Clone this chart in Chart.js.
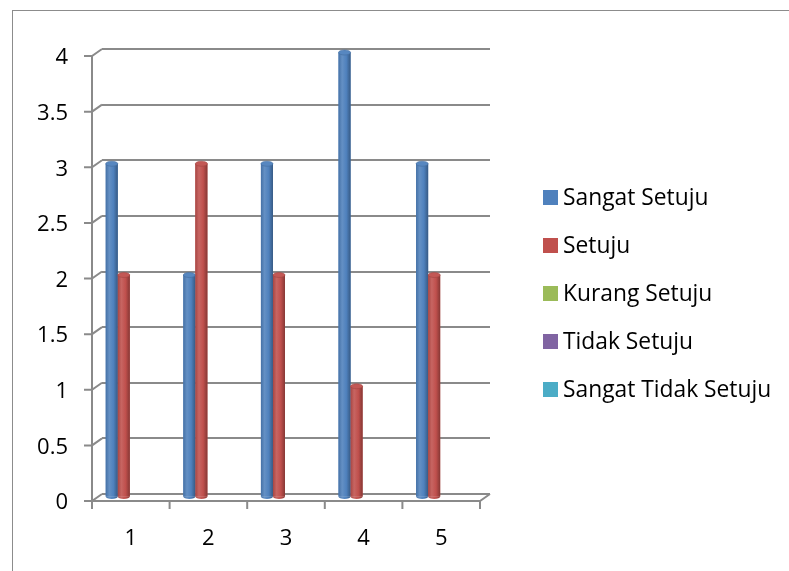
<!DOCTYPE html>
<html>
<head>
<meta charset="utf-8">
<script src="https://cdn.jsdelivr.net/npm/chart.js@4"></script>
<style>
  html, body { margin: 0; padding: 0; background: #fff; }
  #wrap { position: relative; width: 789px; height: 571px; overflow: hidden; }
  #frame { position: absolute; left: 12px; top: 10px; width: 800px; height: 600px; border: 1.5px solid #8c8c8c; box-sizing: border-box; }
  canvas { position: absolute; left: 0; top: 0; }
  #legend { position: absolute; left: 543px; top: 0; font-family: "Open Sans", sans-serif; font-size: 22.8px; color: #000; }
  .item { position: absolute; left: 0; white-space: nowrap; height: 30px; line-height: 30px; }
  .sw { position: absolute; left: 0; top: 8px; width: 15px; height: 15px; }
  .tx { position: absolute; left: 20px; top: 0; }
</style>
</head>
<body>
<div id="wrap">
  <div id="frame"></div>
  <canvas id="c" width="789" height="571"></canvas>
  <div id="legend"></div>
</div>
<script>
const categories = ["1", "2", "3", "4", "5"];
const sangatSetuju = [3, 2, 3, 4, 3];
const setuju = [2, 3, 2, 1, 2];
const kurangSetuju = [0, 0, 0, 0, 0];
const tidakSetuju = [0, 0, 0, 0, 0];
const sangatTidakSetuju = [0, 0, 0, 0, 0];
const seriesNames = ["Sangat Setuju", "Setuju", "Kurang Setuju", "Tidak Setuju", "Sangat Tidak Setuju"];
const seriesColors = ["#4f81bd", "#c0504d", "#9bbb59", "#8064a2", "#4bacc6"];
const yTicks = [0, 0.5, 1, 1.5, 2, 2.5, 3, 3.5, 4];

const DX = -10, DY = 7;       // front plane offset from back wall
const BDX = -5, BDY = 3.5;    // bars sit mid-depth
const AXIS = '#8a8a8a';

function shade(hex, f) {
  const n = parseInt(hex.slice(1), 16);
  let r = n >> 16, g = (n >> 8) & 255, b = n & 255;
  if (f >= 0) { r += (255 - r) * f; g += (255 - g) * f; b += (255 - b) * f; }
  else { r *= 1 + f; g *= 1 + f; b *= 1 + f; }
  return `rgb(${r|0},${g|0},${b|0})`;
}

const depthPlugin = {
  id: 'depth',
  beforeDatasetsDraw(chart) {
    chart.ctx.save();
    chart.ctx.translate(BDX, BDY);
  },
  afterDatasetsDraw(chart) {
    const ctx = chart.ctx;
    chart.data.datasets.forEach((ds, di) => {
      const meta = chart.getDatasetMeta(di);
      const base = ds.backgroundColor;
      meta.data.forEach(el => {
        const h = el.base - el.y;
        if (h <= 0.5) return;
        const l = el.x - el.width / 2, r = el.x + el.width / 2;
        const g = ctx.createLinearGradient(l, 0, r, 0);
        g.addColorStop(0, shade(base, -0.12));
        g.addColorStop(0.3, shade(base, 0.12));
        g.addColorStop(0.65, base);
        g.addColorStop(1, shade(base, -0.3));
        ctx.fillStyle = g;
        ctx.fillRect(l, el.y, el.width, h);
        ctx.beginPath();
        ctx.ellipse(el.x, el.base, el.width / 2, 2.5, 0, 0, Math.PI);
        ctx.fill();
        ctx.beginPath();
        ctx.ellipse(el.x, el.y, el.width / 2, 2.5, 0, 0, Math.PI * 2);
        ctx.fillStyle = shade(base, 0.05);
        ctx.fill();
        ctx.strokeStyle = shade(base, -0.15);
        ctx.lineWidth = 0.6;
        ctx.stroke();
      });
    });
    ctx.restore();
  },
  afterDraw(chart) {
    const ctx = chart.ctx;
    const ys = chart.scales.y;
    const L = chart.chartArea.left, R = chart.chartArea.right;
    const bottom = ys.getPixelForValue(0), top = ys.getPixelForValue(4);
    ctx.save();
    ctx.strokeStyle = AXIS;
    ctx.lineWidth = 2;
    ctx.beginPath();
    ctx.moveTo(L + DX, top + DY);
    ctx.lineTo(L + DX, bottom + DY);
    yTicks.forEach(v => {
      const p = ys.getPixelForValue(v);
      ctx.moveTo(L + DX - 8, p + DY);
      ctx.lineTo(L + DX, p + DY);
      ctx.lineTo(L, p);
    });
    ctx.moveTo(L + DX, bottom + DY);
    ctx.lineTo(R + DX, bottom + DY);
    ctx.lineTo(R, bottom);
    const n = categories.length;
    const w = (R - L) / n;
    for (let i = 0; i <= n; i++) {
      const x = L + i * w + DX;
      ctx.moveTo(x, bottom + DY);
      ctx.lineTo(x, bottom + DY + 8);
    }
    ctx.stroke();
    ctx.restore();
  }
};

const datasets = [sangatSetuju, setuju, kurangSetuju, tidakSetuju, sangatTidakSetuju].map((d, i) => ({
  label: seriesNames[i],
  data: d,
  backgroundColor: seriesColors[i],
  borderWidth: 0,
  barPercentage: 1,
  categoryPercentage: 0.775
}));

new Chart(document.getElementById('c'), {
  type: 'bar',
  data: { labels: categories, datasets },
  plugins: [depthPlugin],
  options: {
    responsive: false,
    animation: false,
    devicePixelRatio: 1,
    layout: { padding: { left: 12, top: 49, right: 299, bottom: 0 } },
    plugins: { legend: { display: false }, tooltip: { enabled: false } },
    scales: {
      x: {
        grid: { display: false, drawTicks: false },
        border: { display: false },
        ticks: { color: '#000', font: { family: 'Open Sans', size: 22 }, padding: 32, labelOffset: -10 },
        afterFit(s) { s.height = 77; }
      },
      y: {
        min: 0, max: 4,
        afterBuildTicks(s) { s.ticks = yTicks.map(v => ({ value: v })); },
        grid: { color: AXIS, lineWidth: 2, drawTicks: false },
        border: { display: false },
        ticks: { color: '#000', font: { family: 'Open Sans', size: 22 }, padding: 34, labelOffset: 9,
                 callback: v => String(v) },
        afterFit(s) { s.width = 90; }
      }
    }
  }
});

const lg = document.getElementById('legend');
const legendTops = [197, 245, 293, 341, 389];
seriesNames.forEach((name, i) => {
  const it = document.createElement('div');
  it.className = 'item';
  it.style.top = (legendTops[i] - 15) + 'px';
  it.innerHTML = `<span class="sw" style="background:${seriesColors[i]}"></span><span class="tx">${name}</span>`;
  lg.appendChild(it);
});
</script>
</body>
</html>
